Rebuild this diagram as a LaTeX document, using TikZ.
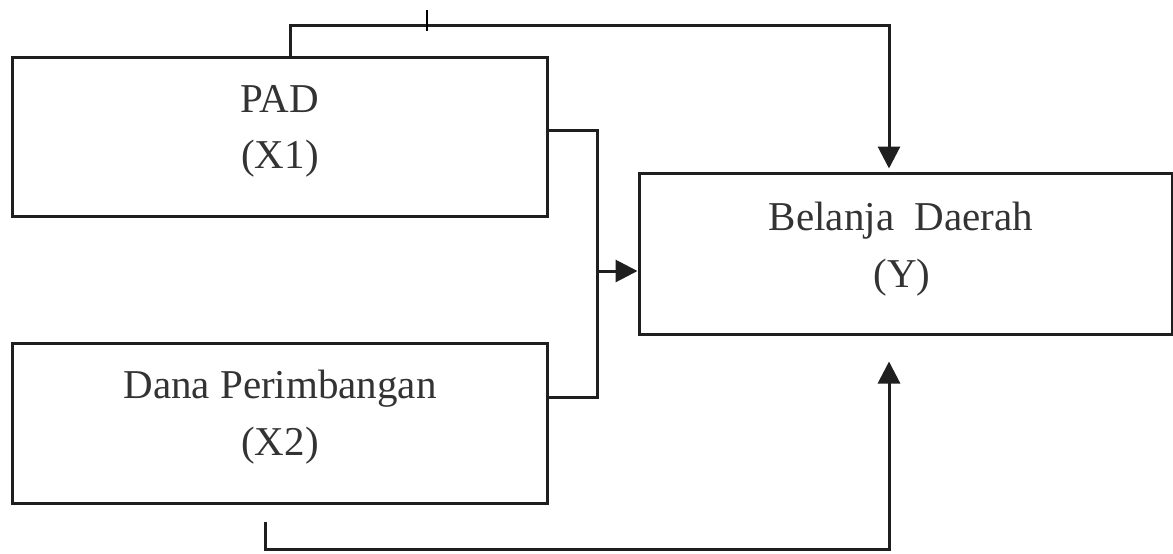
\documentclass[tikz,border=0pt]{standalone}
\usepackage{fontspec}
\setmainfont{Liberation Serif}
\usetikzlibrary{arrows.meta}
\begin{document}
\begin{tikzpicture}[x=0.5pt,y=-0.5pt,
  box/.style={draw=black!88,line width=1.5pt,rectangle,inner sep=0pt},
  lbl/.style={anchor=base,inner sep=0pt,font=\fontsize{20.5}{28}\selectfont,text=black!80},
  conn/.style={draw=black!88,line width=1.5pt},
  arr/.style={conn,-{Triangle[length=11pt,width=11pt]}}]
\useasboundingbox (0,0) rectangle (1173,553);
\node[box,minimum width=535*0.5pt,minimum height=159*0.5pt] (pad) at (279.5,136.5) {};
\node[box,minimum width=535*0.5pt,minimum height=160*0.5pt] (dana) at (279.5,423) {};
\node[box,minimum width=533*0.5pt,minimum height=161*0.5pt] (y) at (905.5,253.5) {};
\node[lbl] (padA) at (280,112) {PAD};
\node[lbl] (padB) at (280,168) {(X1)};
\node[lbl] (danaA) at (280,398) {Dana Perimbangan};
\node[lbl] (danaB) at (280,455) {(X2)};
\node[lbl] (yA) at (901,230) {Belanja\ \ Daerah};
\node[lbl] (yB) at (902,287) {(Y)};
% top connector
\coordinate (t1) at (290,25);
\coordinate (t2) at (889,25);
\draw[arr] (t1 |- pad.north) -- (t1) -- (t2) -- ([yshift=1.5pt]t2 |- y.north);
% tick
\draw[black,line width=1pt] (427,10) -- (427,31);
% bracket
\coordinate (a1) at (597,130);
\coordinate (a2) at (597,397);
\coordinate (am) at (597,271);
\draw[conn] (a1 -| pad.east) -- (a1) -- (a2) -- (a2 -| dana.east);
\draw[arr] (am) -- (am -| y.west);
% bottom connector
\coordinate (b1) at (265,549);
\coordinate (b2) at (889,549);
\draw[arr,shorten <=8.5pt,shorten >=13pt] (b1 |- dana.south) -- (b1) -- (b2) -- (b2 |- y.south);
\end{tikzpicture}
\end{document}
